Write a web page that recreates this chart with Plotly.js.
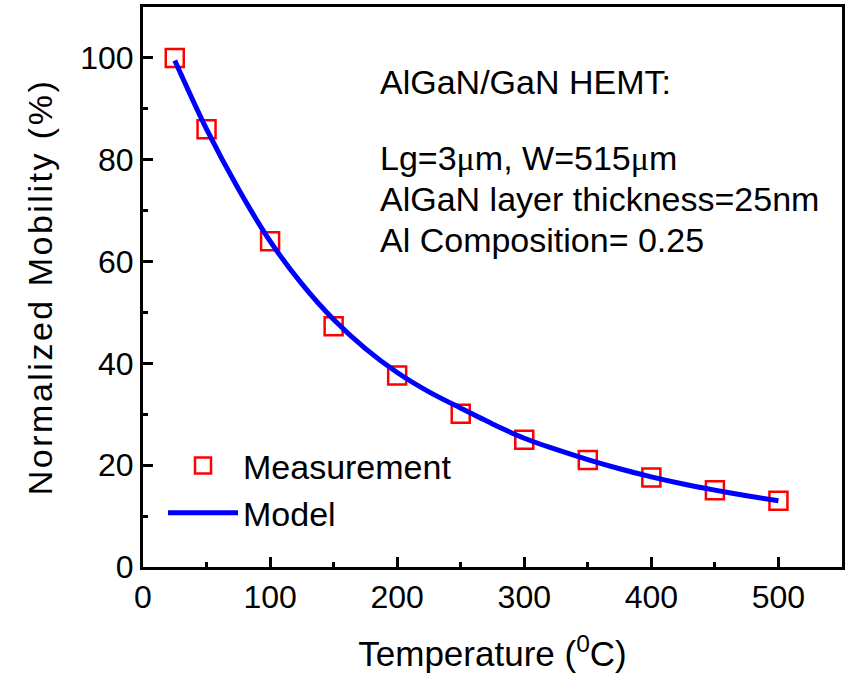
<!DOCTYPE html>
<html>
<head>
<meta charset="utf-8">
<script src="https://cdn.plot.ly/plotly-3.0.1.min.js"></script>
<style>html,body{margin:0;padding:0;background:#fff;}#chart{width:859px;height:679px;}</style>
</head>
<body>
<div id="chart"></div>
<script>
// Measurement data
const measT = [25, 50, 100, 150, 200, 250, 300, 350, 400, 450, 500];
const measMobility = [100, 86, 64, 47.3, 37.6, 30.1, 25, 21, 17.6, 15.1, 13];

// Model curve
const modelT = [25, 50, 75, 100, 125, 150, 175, 200, 225, 250, 275, 300, 325, 350, 375, 400, 425, 450, 475, 500];
const modelMobility = [99.5, 86, 74.3, 64, 55.6, 48.6, 42.9, 38.2, 34.4, 31.2, 28.1, 25.3, 23.1, 21.1, 19.3, 17.7, 16.3, 15.1, 14, 13];

const xTicks = [0, 100, 200, 300, 400, 500];
const yTicks = [0, 20, 40, 60, 80, 100];

const FONT = "Liberation Sans, Arial, sans-serif";
const TXT = 34;

const traces = [
  {
    x: measT, y: measMobility, type: 'scatter', mode: 'markers', name: 'Measurement',
    marker: {symbol: 'square-open', size: 18, color: '#ff0000', line: {width: 2.5, color: '#ff0000'}}
  },
  {
    x: modelT, y: modelMobility, type: 'scatter', mode: 'lines', name: 'Model',
    line: {color: '#0000ff', width: 5, shape: 'spline', smoothing: 0.8}
  }
];

const py = v => (567 - v) / 560;
const px = v => (v - 143) / 699;

const layout = {
  width: 859, height: 679,
  margin: {l: 143, r: 17, t: 7, b: 112},
  paper_bgcolor: '#fff', plot_bgcolor: '#fff',
  font: {family: FONT, size: TXT, color: '#000'},
  showlegend: true,
  legend: {
    x: px(163), y: py(437), xanchor: 'left', yanchor: 'top',
    bgcolor: 'rgba(0,0,0,0)', font: {family: FONT, size: TXT, color: '#000'},
    itemwidth: 70, tracegroupgap: 0
  },
  xaxis: {
    range: [0, 550], tickvals: xTicks, ticktext: xTicks.map(String),
    ticks: 'inside', ticklen: 10, tickwidth: 3, tickcolor: '#000',
    minor: {ticks: 'inside', ticklen: 5, tickwidth: 3, dtick: 50, tickcolor: '#000'},
    showline: true, linewidth: 3, linecolor: '#000', mirror: true,
    showgrid: false, zeroline: false,
    tickfont: {family: FONT, size: 32, color: '#000'},
    title: {text: 'Temperature (<sup>0</sup>C)', font: {family: FONT, size: 35, color: '#000'}, standoff: 28}
  },
  yaxis: {
    range: [0, 110], tickvals: yTicks, ticktext: yTicks.map(String),
    ticks: 'inside', ticklen: 10, tickwidth: 3, tickcolor: '#000',
    minor: {ticks: 'inside', ticklen: 5, tickwidth: 3, dtick: 10, tickcolor: '#000'},
    showline: true, linewidth: 3, linecolor: '#000', mirror: true,
    showgrid: false, zeroline: false,
    tickfont: {family: FONT, size: 32, color: '#000'},
    title: {text: '<span style="letter-spacing:2.5px">Normalized Mobility (%)</span>', font: {family: FONT, size: 34, color: '#000'}, standoff: 18}
  },
  annotations: [
    {xref: 'paper', yref: 'paper', x: px(378), y: py(82), xanchor: 'left', yanchor: 'middle', showarrow: false,
     text: 'AlGaN/GaN HEMT:', font: {family: FONT, size: TXT, color: '#000'}},
    {xref: 'paper', yref: 'paper', x: px(378), y: py(158), xanchor: 'left', yanchor: 'middle', showarrow: false,
     text: 'Lg=3<span style="font-family:Liberation Serif, serif">μ</span>m, W=515<span style="font-family:Liberation Serif, serif">μ</span>m', font: {family: FONT, size: TXT, color: '#000'}},
    {xref: 'paper', yref: 'paper', x: px(378), y: py(199), xanchor: 'left', yanchor: 'middle', showarrow: false,
     text: 'AlGaN layer thickness=25nm', font: {family: FONT, size: TXT, color: '#000'}},
    {xref: 'paper', yref: 'paper', x: px(378), y: py(240), xanchor: 'left', yanchor: 'middle', showarrow: false,
     text: 'Al Composition= 0.25', font: {family: FONT, size: TXT, color: '#000'}}
  ]
};

Plotly.newPlot('chart', traces, layout, {displayModeBar: false, staticPlot: true});
</script>
</body>
</html>
